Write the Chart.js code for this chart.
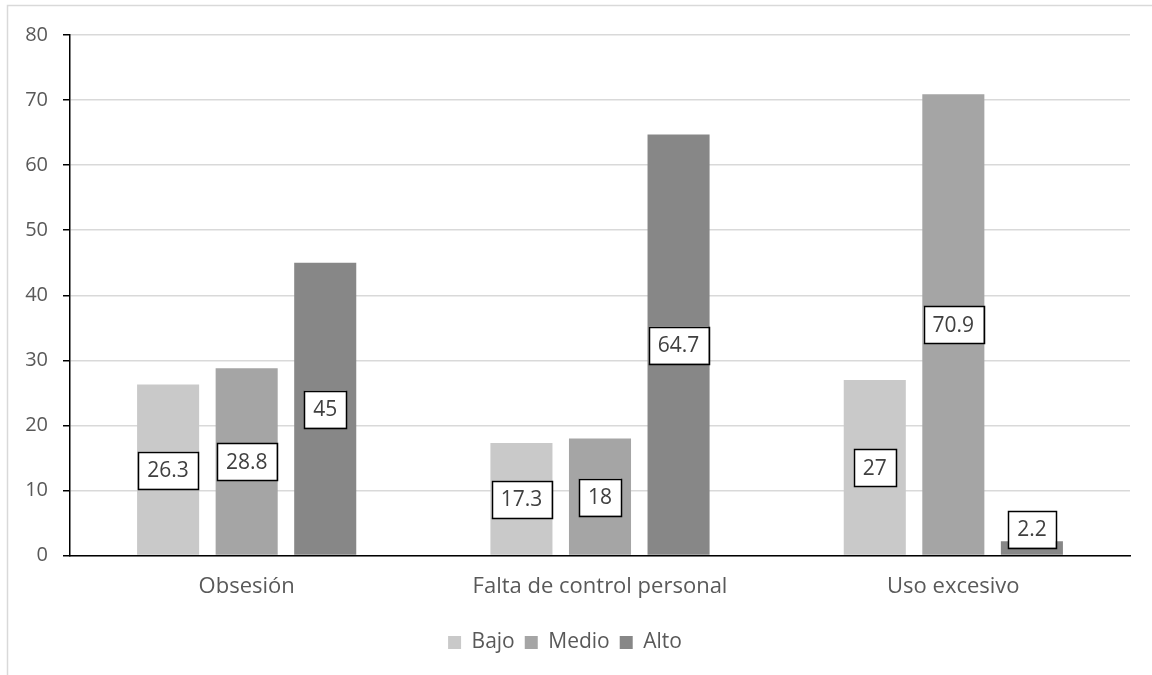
<!DOCTYPE html>
<html>
<head>
<meta charset="utf-8">
<script src="https://cdn.jsdelivr.net/npm/chart.js@4/dist/chart.umd.min.js"></script>
<style>
  html, body { margin: 0; padding: 0; background: #ffffff; }
  #wrap { width: 1152px; height: 675px; position: relative; }
</style>
</head>
<body>
<div id="wrap"><canvas id="chart" width="1152" height="675"></canvas></div>
<script>
// Categories and series
const categories = ['Obsesión', 'Falta de control personal', 'Uso excesivo'];
const bajo  = [26.3, 17.3, 27];
const medio = [28.8, 18, 70.9];
const alto  = [45, 64.7, 2.2];
const yTicks = [0, 10, 20, 30, 40, 50, 60, 70, 80];

const FONT = "'Open Sans', 'DejaVu Sans', sans-serif";

// Thin light frame around the chart (top and left edges)
const framePlugin = {
  id: 'frame',
  beforeDraw(chart) {
    const ctx = chart.ctx;
    ctx.save();
    ctx.strokeStyle = '#d9d9d9';
    ctx.lineWidth = 1.5;
    ctx.strokeRect(7.5, 5.5, 1200, 700);
    ctx.restore();
  }
};

// Boxed value labels at the middle of each bar
const boxLabels = {
  id: 'boxLabels',
  afterDatasetsDraw(chart) {
    const ctx = chart.ctx;
    const yScale = chart.scales.y;
    const base = yScale.getPixelForValue(0);
    ctx.save();
    ctx.font = "21px " + FONT;
    ctx.textAlign = 'center';
    ctx.textBaseline = 'middle';
    chart.data.datasets.forEach((ds, di) => {
      const meta = chart.getDatasetMeta(di);
      meta.data.forEach((bar, i) => {
        const v = ds.data[i];
        const txt = String(v);
        const w = ctx.measureText(txt).width + 18;
        const h = 37;
        let cy = (bar.y + base) / 2;
        cy = Math.min(cy, base - h / 2 - 8);
        const x = bar.x;
        ctx.fillStyle = '#ffffff';
        ctx.fillRect(x - w / 2, cy - h / 2, w, h);
        ctx.strokeStyle = '#000000';
        ctx.lineWidth = 1.5;
        ctx.strokeRect(Math.round(x - w / 2) + 0.5, Math.round(cy - h / 2) + 0.5, Math.round(w), h);
        ctx.fillStyle = '#404040';
        ctx.fillText(txt, x, cy + 1);
      });
    });
    ctx.restore();
  }
};

new Chart(document.getElementById('chart'), {
  type: 'bar',
  data: {
    labels: categories,
    datasets: [
      { label: 'Bajo',  data: bajo,  backgroundColor: '#c9c9c9' },
      { label: 'Medio', data: medio, backgroundColor: '#a5a5a5' },
      { label: 'Alto',  data: alto,  backgroundColor: '#878787' }
    ]
  },
  options: {
    responsive: false,
    animation: false,
    devicePixelRatio: 1,
    layout: { padding: { top: 35, right: 22, bottom: 12, left: 0 } },
    datasets: {
      bar: { categoryPercentage: 0.667, barPercentage: 0.79 }
    },
    scales: {
      x: {
        afterFit(scale) { scale.height += 4; },
        grid: { display: false, drawTicks: false },
        border: { display: true, color: '#000000', width: 1.5 },
        ticks: { color: '#595959', font: { family: FONT, size: 22 }, padding: 18 }
      },
      y: {
        min: 0, max: 80,
        afterBuildTicks(scale) { scale.ticks = yTicks.map(v => ({ value: v })); },
        afterFit(scale) { scale.width = 70; },
        grid: { color: '#d9d9d9', lineWidth: 1.5, tickColor: '#000000', tickLength: 7 },
        border: { display: true, color: '#000000', width: 1.5 },
        ticks: { color: '#595959', font: { family: FONT, size: 20 }, padding: 15 }
      }
    },
    plugins: {
      legend: {
        position: 'bottom',
        labels: {
          color: '#595959',
          font: { family: FONT, size: 21 },
          boxWidth: 13, boxHeight: 13,
          padding: 10
        }
      },
      tooltip: { enabled: false }
    }
  },
  plugins: [framePlugin, boxLabels]
});
</script>
</body>
</html>
